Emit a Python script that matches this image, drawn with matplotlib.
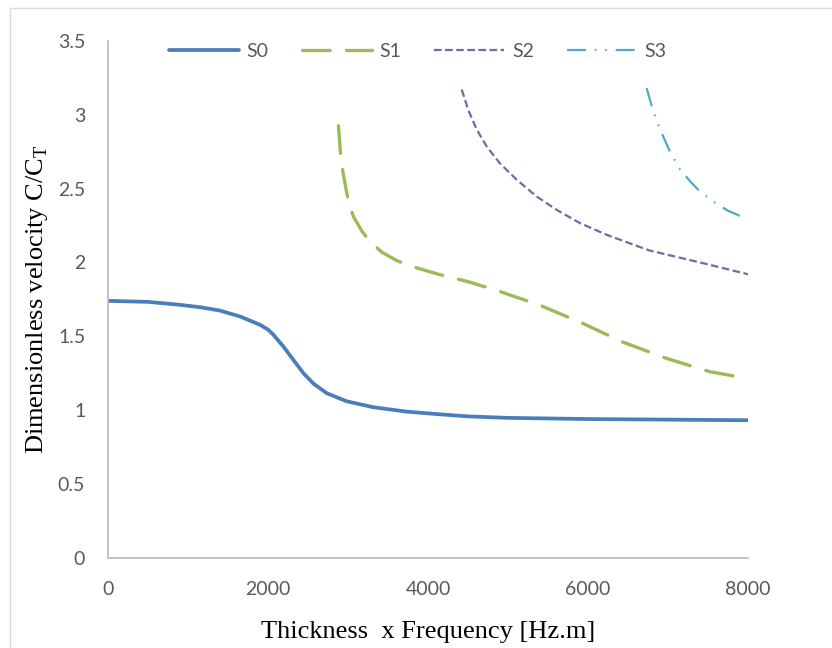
import matplotlib
matplotlib.use("Agg")
import matplotlib.pyplot as plt
from matplotlib.patches import Rectangle

# values
s0_x = [0, 500, 900, 1150, 1400, 1650, 1900, 2000, 2067, 2192, 2317, 2442, 2567, 2733,
        2983, 3317, 3733, 4150, 4500, 5000, 6000, 7000, 8000]
s0_y = [1.74, 1.733, 1.713, 1.697, 1.674, 1.634, 1.578, 1.545, 1.51, 1.43, 1.34, 1.25,
        1.18, 1.115, 1.06, 1.02, 0.99, 0.972, 0.958, 0.948, 0.94, 0.936, 0.932]

s1_x = [2879, 2908, 2933, 3004, 3067, 3175, 3275, 3421, 3600, 3754, 4129, 4500, 4862,
        5400, 5925, 6440, 6985, 7525, 8000]
s1_y = [2.925, 2.72, 2.62, 2.41, 2.31, 2.21, 2.14, 2.07, 2.015, 1.98, 1.92, 1.87, 1.81,
        1.71, 1.59, 1.46, 1.35, 1.26, 1.215]

s2_x = [4421, 4504, 4608, 4733, 4900, 5108, 5358, 5608, 5900, 6233, 6629, 6775, 7400,
        7925, 8000]
s2_y = [3.17, 3.03, 2.90, 2.785, 2.67, 2.56, 2.446, 2.356, 2.266, 2.187, 2.108, 2.08,
        2.00, 1.93, 1.92]

s3_x = [6733, 6796, 6879, 6950, 7025, 7150, 7275, 7400, 7600, 7750, 7921, 8000]
s3_y = [3.18, 3.06, 2.93, 2.84, 2.75, 2.63, 2.55, 2.48, 2.40, 2.35, 2.31, 2.29]

x_ticks = [0, 2000, 4000, 6000, 8000]
y_ticks = [0, 0.5, 1, 1.5, 2, 2.5, 3, 3.5]
y_tick_labels = ["0", "0.5", "1", "1.5", "2", "2.5", "3", "3.5"]

plt.rcParams["mathtext.fontset"] = "custom"
plt.rcParams["mathtext.rm"] = "Liberation Serif"

tick_font = "Lato"
gray = "#595959"

fig = plt.figure(figsize=(8.32, 6.48), dpi=100)
ax = fig.add_axes([0.13, 0.139, 0.769, 0.798])

ax.plot(s0_x, s0_y, color="#4A7EBB", lw=2.7, label="S0", solid_capstyle="round",
        solid_joinstyle="round")
ax.plot(s1_x, s1_y, color="#9BBB59", lw=2.4, label="S1",
        dashes=(8.3, 4.9), dash_capstyle="round")
ax.plot(s2_x, s2_y, color="#8064A2", lw=1.6, label="S2", dashes=(3.4, 1.6))
ax.plot(s3_x, s3_y, color="#4BACC6", lw=1.6, label="S3",
        dashes=(8.5, 4.0, 0.7, 4.0, 0.7, 4.0))

ax.set_xlim(0, 8000)
ax.set_ylim(0, 3.5)
ax.set_xticks(x_ticks)
ax.set_yticks(y_ticks)
ax.set_xticklabels([str(v) for v in x_ticks], fontsize=14, family=tick_font, color=gray)
ax.set_yticklabels(y_tick_labels, fontsize=14, family=tick_font, color=gray)
ax.tick_params(length=0)
ax.tick_params(axis="x", pad=16.5)
ax.tick_params(axis="y", pad=16.5)

for side in ["top", "right"]:
    ax.spines[side].set_visible(False)
for side in ["left", "bottom"]:
    ax.spines[side].set_color("#BFBFBF")
    ax.spines[side].set_linewidth(1.3)

ax.set_xlabel("Thickness  x Frequency [Hz.m]", family="Liberation Serif", fontsize=19,
              labelpad=17)
ax.set_ylabel(r"Dimensionless velocity C/C$_\mathrm{T}$", family="Liberation Serif",
              fontsize=19, labelpad=6)

leg = ax.legend(loc="center", bbox_to_anchor=(0.484, 0.979), ncol=4, frameon=False,
                handlelength=3.6, handletextpad=0.4, columnspacing=1.7,
                prop={"family": tick_font, "size": 14})
for t in leg.get_texts():
    t.set_color(gray)

fig.patches.append(Rectangle((10 / 832, -0.1), 2, 1.1 - 8 / 648, transform=fig.transFigure,
                             fill=False, edgecolor="#D9D9D9", lw=1.0))

fig.savefig("out.png", dpi=100)
